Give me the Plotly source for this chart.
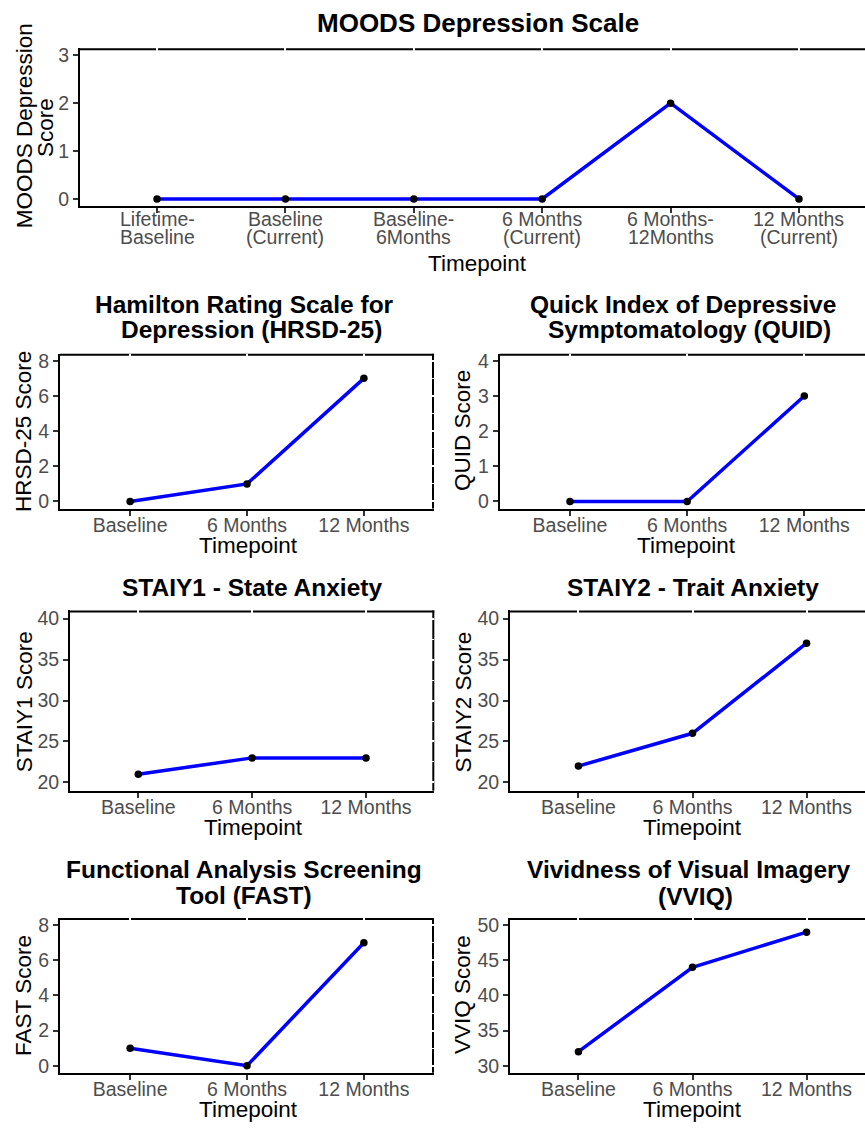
import plotly.graph_objects as go

W, H = 865, 1131
FONT = "Liberation Sans, Arial, sans-serif"

# ---------------- data ----------------
moods_cats = ["Lifetime-\nBaseline", "Baseline\n(Current)", "Baseline-\n6Months",
              "6 Months\n(Current)", "6 Months-\n12Months", "12 Months\n(Current)"]
moods_vals = [0, 0, 0, 0, 2, 0]

tp_cats = ["Baseline", "6 Months", "12 Months"]
hrsd_vals = [0, 1, 7]
quid_vals = [0, 0, 3]
staiy1_vals = [21, 23, 23]
staiy2_vals = [22, 26, 37]
fast_vals = [1, 0, 7]
vviq_vals = [32, 44, 49]

# ---------------- panel layout (pixels) ----------------
panels = [
    dict(cats=moods_cats, vals=moods_vals, box=(80, 876, 44.5, 203.5), yr=(-0.15, 3.15), dt=1,
         title=[("MOODS Depression Scale", 478, 22.5)], tsize=26,
         ytitle=[("MOODS Depression", 24.7, 122.5), ("Score", 45.5, 124.5)],
         xtitle=(478, 263.8), multiline=True),
    dict(cats=tp_cats, vals=hrsd_vals, box=(60, 434, 352.2, 508.1), yr=(-0.4, 8.4), dt=2,
         title=[("Hamilton Rating Scale for", 244, 306), ("Depression (HRSD-25)", 251.7, 331)],
         ytitle=[("HRSD-25 Score", 24, 431)], xtitle=(248, 547.8)),
    dict(cats=tp_cats, vals=quid_vals, box=(499.7, 874.6, 352.2, 508.1), yr=(-0.2, 4.2), dt=1,
         title=[("Quick Index of Depressive", 683, 305.7), ("Symptomatology (QUID)", 689, 331)],
         ytitle=[("QUID Score", 463, 430)], xtitle=(686, 547.8)),
    dict(cats=tp_cats, vals=staiy1_vals, box=(70, 434.3, 610.75, 792.25), yr=(19, 41), dt=5,
         title=[("STAIY1 - State Anxiety", 252.3, 591.3)],
         ytitle=[("STAIY1 Score", 24.7, 702.5)], xtitle=(253, 832.7)),
    dict(cats=tp_cats, vals=staiy2_vals, box=(510, 875, 610.75, 792.25), yr=(19, 41), dt=5,
         title=[("STAIY2 - Trait Anxiety", 692.5, 590.5)],
         ytitle=[("STAIY2 Score", 464, 702.5)], xtitle=(692.5, 832.7)),
    dict(cats=tp_cats, vals=fast_vals, box=(60, 434, 920.6, 1076.4), yr=(-0.4, 8.4), dt=2,
         title=[("Functional Analysis Screening", 244.2, 874.5), ("Tool (FAST)", 244.2, 900.8)],
         ytitle=[("FAST Score", 24, 999)], xtitle=(248, 1116)),
    dict(cats=tp_cats, vals=vviq_vals, box=(510, 875, 920.6, 1076.4), yr=(29, 51), dt=5,
         title=[("Vividness of Visual Imagery", 689.2, 874.5), ("(VVIQ)", 695.8, 902.5)],
         ytitle=[("VVIQ Score", 463, 998)], xtitle=(692.5, 1115.8)),
]

TITLE_SIZE = 24.5
AXT_SIZE = 22.5
TICK_SIZE = 19.5


def px(x):
    return x / W


def py(y):
    return 1 - y / H


def pyt(y, size):
    # place text so its capital letters are centred on y
    return py(y - 0.13 * size)


fig = go.Figure()
layout = dict(width=W, height=H, margin=dict(l=0, r=0, t=0, b=0),
              paper_bgcolor="white", plot_bgcolor="rgba(0,0,0,0)",
              showlegend=False, font=dict(family=FONT))
annotations = []
shapes = []

for i, p in enumerate(panels):
    k = "" if i == 0 else str(i + 1)
    x0, x1f, yt, yb = p["box"]
    n = len(p["cats"])
    full_span = (n - 1) + 1.2
    x1 = min(x1f, W)
    xr_end = -0.6 + full_span * (x1 - x0) / (x1f - x0)

    fig.add_trace(go.Scatter(
        x=p["cats"], y=p["vals"], mode="lines+markers",
        line=dict(color="#0000FF", width=3.5),
        marker=dict(color="black", size=7.5),
        xaxis="x" + k, yaxis="y" + k, hoverinfo="skip"))

    multiline = p.get("multiline", False)
    layout["xaxis" + k] = dict(
        domain=[px(x0), px(x1)], anchor="y" + k, type="category",
        categoryorder="array", categoryarray=p["cats"],
        range=[-0.6, xr_end], showline=True, linecolor="black", linewidth=2,
        ticks="outside", ticklen=5, tickwidth=1.5, tickcolor="#333333",
        showgrid=True, gridcolor="white", gridwidth=2, zeroline=False,
        showticklabels=not multiline, ticklabelstandoff=-7,
        tickfont=dict(size=TICK_SIZE, color="#4D4D4D", family=FONT), fixedrange=True)
    layout["yaxis" + k] = dict(
        domain=[py(yb), py(yt)], anchor="x" + k, range=list(p["yr"]),
        tickmode="linear", tick0=0, dtick=p["dt"],
        showline=True, linecolor="black", linewidth=2,
        ticks="outside", ticklen=5, tickwidth=1.5, tickcolor="#333333",
        showgrid=True, gridcolor="white", gridwidth=2, zeroline=False,
        minor=dict(dtick=p["dt"] / 2, tick0=0, showgrid=True, gridcolor="white", gridwidth=1.2),
        tickfont=dict(size=TICK_SIZE, color="#4D4D4D", family=FONT), fixedrange=True)

    # panel border (top & right) drawn below the white grid lines
    shapes.append(dict(type="line", xref="paper", yref="paper", layer="below",
                       x0=px(x0), x1=px(x1f), y0=py(yt + 1), y1=py(yt + 1),
                       line=dict(color="black", width=2)))
    shapes.append(dict(type="line", xref="paper", yref="paper", layer="below",
                       x0=px(x1f - 1), x1=px(x1f - 1), y0=py(yt), y1=py(yb),
                       line=dict(color="black", width=2)))

    if multiline:
        for j, c in enumerate(p["cats"]):
            for li, line in enumerate(c.split("\n")):
                annotations.append(dict(
                    text=line, x=j, xref="x" + k, y=pyt(219 + li * 18.5, TICK_SIZE), yref="paper",
                    xanchor="center", yanchor="middle", showarrow=False,
                    font=dict(size=TICK_SIZE, color="#4D4D4D", family=FONT)))

    ts = p.get("tsize", TITLE_SIZE)
    for (t, tx, ty) in p["title"]:
        annotations.append(dict(text="<b>" + t + "</b>", x=px(tx), y=pyt(ty, ts),
                                xref="paper", yref="paper", xanchor="center", yanchor="middle",
                                showarrow=False, font=dict(size=ts, color="black", family=FONT)))
    for (t, tx, ty) in p["ytitle"]:
        annotations.append(dict(text=t, x=px(tx), y=py(ty), textangle=-90,
                                xref="paper", yref="paper", xanchor="center", yanchor="middle",
                                showarrow=False, font=dict(size=AXT_SIZE, color="black", family=FONT)))
    xt, yt_ = p["xtitle"]
    annotations.append(dict(text="Timepoint", x=px(xt), y=pyt(yt_, AXT_SIZE),
                            xref="paper", yref="paper", xanchor="center", yanchor="middle",
                            showarrow=False, font=dict(size=AXT_SIZE, color="black", family=FONT)))

layout["annotations"] = annotations
layout["shapes"] = shapes
fig.update_layout(**layout)
fig.write_html("out.html")
